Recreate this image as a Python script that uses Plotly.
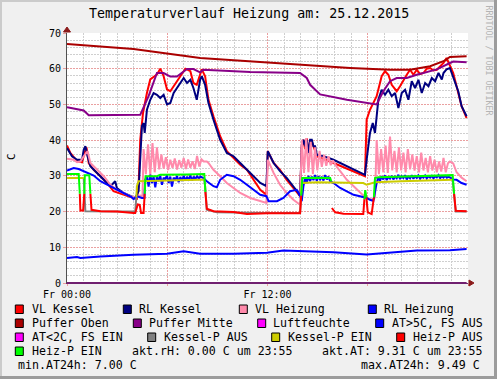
import plotly.graph_objects as go

# ---------------- data (time in minutes after 00:00, value in C) ----------------
puffer_oben = [(0, 66.9), (239, 65.5), (478, 63.0), (658, 62.1), (718, 61.8), (837, 61.2),
               (1017, 60.2), (1160, 59.7), (1232, 59.7), (1304, 60.7), (1352, 62.1),
               (1375, 63.3), (1435, 63.5)]

puffer_mitte = [(0, 49.2), (36, 48.7), (60, 48.3), (78, 47.0), (263, 47.1), (293, 52.3),
                (323, 58.8), (347, 58.8), (371, 57.8), (395, 57.8), (431, 59.9), (454, 59.9),
                (478, 59.0), (490, 59.7), (658, 59.1), (837, 58.8), (861, 57.4), (873, 55.5),
                (909, 52.8), (1005, 51.3), (1088, 50.4), (1112, 50.0), (1136, 53.7),
                (1160, 56.5), (1184, 57.4), (1220, 57.4), (1256, 58.3), (1328, 59.8),
                (1375, 61.6), (1387, 62.0), (1435, 61.8)]

aussen_temp = [(0, 7.0), (36, 7.3), (48, 7.0), (60, 7.1), (120, 7.4), (239, 7.9), (359, 8.2),
               (419, 8.9), (478, 8.2), (598, 8.2), (718, 8.5), (777, 9.1), (837, 9.0),
               (957, 8.6), (1076, 8.0), (1196, 8.6), (1256, 9.1), (1375, 9.2), (1435, 9.5)]

luftfeuchte = [(0, 0.0), (1435, 0.0)]

vl_kessel = [(0, 38.5), (12, 36.4), (36, 34.1), (54, 33.8), (66, 37.3), (70, 38.0), (78, 33.6),
             (96, 31.7), (120, 29.9), (144, 28.0), (167, 25.7), (191, 25.0), (215, 24.3),
             (239, 23.8), (251, 23.6), (257, 27.0), (263, 40.1), (273, 47.6), (287, 53.2),
             (299, 57.0), (323, 58.4), (335, 60.0), (347, 57.9), (359, 54.2), (371, 53.7),
             (383, 55.1), (407, 57.9), (425, 60.0), (443, 59.3), (454, 56.0), (466, 55.5),
             (478, 58.8), (484, 59.8), (496, 57.9), (508, 51.3), (526, 46.7), (550, 41.1),
             (574, 36.9), (598, 35.0), (622, 33.1), (646, 31.7), (670, 28.9), (694, 26.1),
             (716, 24.7), (721, 36.9), (742, 33.6), (765, 31.7), (789, 28.9), (813, 26.6),
             (837, 24.3), (843, 38.3), (849, 40.1), (855, 37.5), (861, 40.5), (867, 37.0),
             (879, 39.7), (891, 37.0), (897, 35.5), (957, 33.6), (1017, 31.7), (1070, 29.9),
             (1076, 45.7), (1088, 48.5), (1112, 52.3), (1130, 57.9), (1142, 59.3), (1154, 58.3),
             (1166, 55.5), (1184, 53.7), (1196, 55.1), (1208, 56.9), (1220, 58.3), (1232, 59.7),
             (1244, 58.3), (1256, 59.7), (1268, 58.5), (1280, 58.8), (1292, 60.0), (1304, 60.2),
             (1316, 59.5), (1328, 59.7), (1352, 61.6), (1363, 63.0), (1375, 60.7), (1387, 58.8),
             (1399, 55.1), (1417, 49.5), (1435, 46.2)]

rl_kessel = [(0, 37.8), (18, 35.5), (36, 34.5), (54, 34.5), (60, 37.3), (66, 38.3), (74, 35.5),
             (84, 32.7), (108, 30.8), (132, 28.9), (156, 27.1), (173, 28.5), (179, 26.6),
             (203, 25.2), (227, 24.3), (245, 23.8), (257, 25.7), (263, 37.3), (269, 43.9),
             (275, 44.8), (279, 42.0), (287, 48.5), (299, 51.3), (311, 53.2), (323, 52.7),
             (335, 51.8), (347, 52.7), (359, 50.0), (371, 50.4), (383, 53.2), (395, 54.6),
             (407, 56.0), (419, 57.4), (431, 56.0), (443, 56.9), (454, 54.6), (466, 51.3),
             (478, 56.9), (484, 57.9), (496, 55.5), (508, 50.4), (526, 45.7), (550, 40.1),
             (574, 36.4), (598, 35.5), (622, 33.6), (646, 31.7), (670, 29.9), (694, 28.0),
             (716, 27.1), (721, 36.9), (742, 33.6), (765, 31.3), (789, 29.4), (813, 27.1),
             (831, 25.2), (837, 24.3), (843, 38.3), (849, 40.1), (855, 38.3), (861, 40.1),
             (867, 36.4), (873, 40.1), (879, 40.1), (885, 38.3), (891, 38.3), (897, 35.9),
             (921, 35.5), (957, 34.5), (1017, 32.2), (1070, 30.3), (1076, 34.5), (1088, 42.0),
             (1098, 44.8), (1106, 42.0), (1118, 51.3), (1130, 54.1), (1142, 52.7), (1154, 54.1),
             (1166, 52.3), (1178, 53.2), (1190, 49.0), (1202, 53.2), (1214, 54.1), (1226, 51.3),
             (1238, 56.5), (1250, 54.6), (1262, 56.9), (1274, 53.2), (1286, 56.0), (1298, 55.1),
             (1310, 57.4), (1322, 56.5), (1334, 58.8), (1346, 57.0), (1352, 58.8), (1363, 59.8),
             (1375, 60.2), (1387, 57.4), (1393, 56.0), (1405, 53.7), (1417, 49.5), (1435, 46.7)]

vl_heizung = [(0, 34.8), (24, 34.5), (36, 33.8), (48, 34.0), (60, 35.5), (74, 36.9), (84, 33.6),
              (108, 31.7), (132, 29.9), (156, 27.5), (179, 26.1), (203, 25.2), (227, 24.3),
              (245, 24.0), (263, 24.5), (271, 24.3),
              (275, 37.5), (283, 30.5), (291, 38.8), (299, 30.2), (307, 39.2), (315, 31.0),
              (323, 38.0), (331, 31.8), (339, 36.0), (347, 32.0), (355, 35.2), (363, 31.6),
              (371, 34.5), (379, 32.2), (387, 34.9), (395, 31.8), (403, 34.4), (411, 32.3),
              (419, 35.0), (427, 31.9), (435, 34.6), (443, 32.3), (451, 34.1), (459, 31.9),
              (467, 35.6), (475, 32.6), (483, 34.6), (491, 34.0), (502, 34.0), (508, 33.6),
              (526, 31.7), (550, 29.9), (574, 28.0), (598, 26.6), (622, 25.2), (658, 23.8),
              (694, 22.9), (716, 22.4), (721, 34.5), (730, 32.7), (742, 30.8), (765, 27.5),
              (789, 25.2), (813, 23.3), (837, 21.9),
              (843, 40.1), (851, 30.8), (859, 40.6), (867, 31.0), (875, 39.5), (883, 30.5),
              (891, 38.0), (899, 31.5), (907, 37.0), (915, 32.5), (923, 35.9), (931, 32.8),
              (939, 35.5), (947, 33.0), (955, 34.3), (963, 33.2), (969, 32.5), (981, 31.3),
              (993, 30.0), (1005, 28.9), (1017, 28.0), (1029, 27.1), (1041, 26.1), (1052, 25.2),
              (1064, 24.5), (1076, 24.0), (1088, 23.5), (1100, 23.3), (1106, 24.0),
              (1112, 40.0), (1120, 30.5), (1128, 37.5), (1136, 31.0), (1144, 38.5), (1152, 30.8),
              (1160, 41.0), (1168, 31.5), (1176, 37.0), (1184, 31.0), (1192, 38.0), (1200, 31.5),
              (1208, 36.5), (1216, 31.0), (1224, 37.5), (1232, 31.8), (1240, 36.0), (1248, 31.5),
              (1256, 35.5), (1264, 31.0), (1272, 36.5), (1280, 31.5), (1288, 35.0), (1296, 31.0),
              (1304, 35.5), (1312, 31.5), (1320, 34.5), (1328, 31.0), (1336, 34.0), (1344, 31.2),
              (1352, 35.0), (1360, 31.0), (1368, 33.5), (1375, 34.0), (1387, 33.5), (1399, 31.0),
              (1417, 29.5), (1435, 28.5)]

rl_heizung = [(0, 31.5), (12, 31.8), (24, 32.2), (42, 31.9), (60, 31.3), (78, 30.8), (96, 30.1),
              (120, 28.5), (144, 27.5), (167, 26.6), (191, 25.7), (215, 24.7), (233, 24.0),
              (239, 23.5), (251, 24.3), (269, 23.8), (278, 23.8),
              (281, 28.9), (287, 29.9), (293, 27.0), (299, 30.3), (305, 28.0), (311, 29.8),
              (317, 26.8), (323, 29.9), (329, 28.5), (335, 30.0), (341, 27.5), (347, 29.5),
              (353, 29.0), (359, 30.2), (365, 28.0), (371, 29.8), (377, 27.0), (383, 29.5),
              (389, 28.8), (395, 30.0), (401, 28.2), (407, 29.7), (413, 28.6), (419, 30.0),
              (425, 28.9), (431, 29.6), (437, 29.0), (443, 30.1), (449, 28.7), (455, 29.8),
              (461, 29.0), (467, 30.0), (473, 29.2), (479, 29.8), (490, 29.4), (502, 28.5),
              (526, 27.1), (538, 26.8), (550, 28.9), (574, 30.3), (598, 29.9), (622, 28.9),
              (646, 27.5), (670, 26.1), (694, 24.7), (716, 24.3), (724, 22.9), (754, 22.9),
              (777, 23.8), (801, 25.7), (825, 26.1), (837, 24.5), (843, 22.9),
              (849, 27.1), (855, 29.5), (861, 28.0), (867, 30.0), (873, 28.5), (879, 29.8),
              (885, 28.8), (891, 30.2), (897, 28.6), (903, 29.9), (909, 29.0), (915, 29.7),
              (921, 28.7), (927, 30.2), (933, 29.0), (939, 29.8), (945, 28.5), (957, 28.0),
              (981, 26.6), (1005, 25.7), (1029, 24.7), (1052, 24.3), (1076, 23.8), (1088, 23.3),
              (1100, 23.0), (1112, 28.0),
              (1118, 29.5), (1124, 28.6), (1130, 29.9), (1136, 29.0), (1142, 30.1), (1148, 28.8),
              (1154, 29.7), (1160, 29.2), (1166, 30.0), (1172, 29.0), (1178, 29.8), (1184, 29.3),
              (1190, 30.3), (1196, 29.1), (1202, 29.9), (1208, 29.4), (1214, 30.2), (1220, 29.0),
              (1226, 29.8), (1232, 29.3), (1238, 30.2), (1244, 29.2), (1250, 29.9), (1256, 29.4),
              (1262, 30.1), (1268, 29.2), (1274, 29.8), (1280, 29.5), (1286, 30.1), (1292, 29.3),
              (1298, 29.9), (1304, 29.5), (1310, 30.0), (1316, 29.3), (1322, 29.9), (1328, 29.6),
              (1334, 30.2), (1340, 29.4), (1346, 29.9), (1352, 29.5), (1358, 30.0), (1364, 29.5),
              (1370, 29.8), (1387, 29.0), (1399, 28.9), (1417, 28.0), (1435, 27.5)]

# pump states: (minute, value, 1 = EIN / 0 = AUS); None = no data
heiz_p = [(0, 30.5, 1), (42, 30.5, 1), (46, 25.0, 1), (48, 20.3, 0), (58, 20.3, 0), (62, 25.0, 0),
          (64, 30.2, 1), (80, 30.2, 1), (84, 25.0, 1), (88, 20.5, 0), (120, 20.1, 0), (179, 20.0, 0),
          (239, 19.6, 0), (245, 19.6, 0), (254, 22.0, 0), (261, 21.9, 0), (266, 19.6, 0),
          (275, 19.6, 0), (279, 25.0, 0), (282, 29.9, 1), (323, 29.9, 1), (335, 30.3, 1),
          (430, 30.4, 1), (493, 30.5, 1), (497, 25.5, 1), (502, 20.8, 0), (526, 20.1, 0),
          (598, 19.9, 0), (646, 19.3, 0), (718, 19.5, 0), (837, 19.5, 0), (841, 24.5, 0),
          (845, 29.4, 1), (900, 29.5, 1), (945, 29.4, 1), (949, 28.5, 1), (950, None, 0),
          (951, 21.0, 0), (963, 19.8, 0), (993, 19.4, 0), (1064, 19.3, 0), (1068, 23.5, 0),
          (1071, 26.0, 1), (1075, 24.0, 1), (1080, 19.8, 0), (1094, 19.3, 0), (1102, 24.0, 0),
          (1106, 29.4, 1), (1118, 29.6, 1), (1200, 29.8, 1), (1300, 30.0, 1), (1385, 30.2, 1),
          (1390, 25.0, 1), (1396, 20.2, 0), (1435, 20.1, 0)]

kessel_p = [(0, 29.4, 1), (60, 29.4, 1), (66, 20.1, 0), (239, 20.0, 0), (245, 19.9, 0),
            (249, 24.0, 0), (251, 27.1, 1), (257, 28.5, 1), (299, 28.5, 1), (359, 28.7, 1),
            (478, 28.9, 1), (493, 28.9, 1), (496, 27.1, 0), (502, 20.5, 0), (538, 19.8, 0),
            (718, 19.6, 0), (837, 19.6, 0), (841, 25.0, 0), (843, 28.0, 1), (900, 28.2, 1),
            (1000, 28.0, 1), (1064, 28.0, 1), (1076, 27.5, 1), (1088, 27.8, 1), (1106, 28.2, 1),
            (1200, 28.5, 1), (1300, 28.7, 1), (1385, 28.9, 1), (1390, 24.0, 0), (1396, 20.0, 0),
            (1435, 20.0, 0)]

title_text = "Temperaturverlauf Heizung am: 25.12.2015"
x_tick_vals = [0, 6, 12, 18, 24]
x_tick_text = ["Fr 00:00", "", "Fr 12:00", "", ""]
y_tick_vals = [0, 10, 20, 30, 40, 50, 60, 70]

legend_names = ["VL Kessel", "RL Kessel", "VL Heizung", "RL Heizung",
                "Puffer Oben", "Puffer Mitte", "Luftfeuchte", "AT>5C, FS AUS",
                "AT<2C, FS EIN", "Kessel-P AUS", "Kessel-P EIN", "Heiz-P AUS",
                "Heiz-P EIN"]
akt_rh, akt_at, min_at24, max_at24, t_last = 0.00, 9.31, 7.00, 9.49, "23:55"

# ---------------- styling ----------------
COL = {"VL Kessel": "#ff0000", "RL Kessel": "#000080", "VL Heizung": "#ff8aab",
       "RL Heizung": "#0000ff", "Puffer Oben": "#aa0000", "Puffer Mitte": "#880088",
       "Luftfeuchte": "#ff00ff", "AT>5C, FS AUS": "#0000ff", "AT<2C, FS EIN": "#ff00ff",
       "Kessel-P AUS": "#808080", "Kessel-P EIN": "#cccc00", "Heiz-P AUS": "#ff0000",
       "Heiz-P EIN": "#00ff00"}
MONO = "DejaVu Sans Mono"
W, H = 497, 379
L, R, T, B = 67, 29, 33, 96
PW, PH = W - L - R, H - T - B


def pxx(x):
    return (x - L) / PW


def pxy(y):
    return (H - B - y) / PH


def xs(pairs):
    return [p[0] / 60.0 for p in pairs]


def ys(pairs):
    return [p[1] for p in pairs]


def split_state(series, k):
    out = []
    n = len(series)
    for i in range(n):
        inc = series[i][2] == k or (i + 1 < n and series[i + 1][2] == k)
        out.append(series[i][1] if inc else None)
    return out


fig = go.Figure()


def line(x, y, color, width=2):
    fig.add_trace(go.Scatter(x=x, y=y, mode="lines", line=dict(color=color, width=width),
                             connectgaps=False, showlegend=False, hoverinfo="skip"))


line(xs(vl_kessel), ys(vl_kessel), COL["VL Kessel"])
line(xs(rl_kessel), ys(rl_kessel), COL["RL Kessel"])
line(xs(vl_heizung), ys(vl_heizung), COL["VL Heizung"])
line(xs(rl_heizung), ys(rl_heizung), COL["RL Heizung"])
line(xs(puffer_oben), ys(puffer_oben), COL["Puffer Oben"])
line(xs(puffer_mitte), ys(puffer_mitte), COL["Puffer Mitte"])
line(xs(luftfeuchte), ys(luftfeuchte), "#702070", 2)
line(xs(aussen_temp), ys(aussen_temp), COL["AT>5C, FS AUS"])
line(xs(kessel_p), split_state(kessel_p, 0), COL["Kessel-P AUS"])
line(xs(kessel_p), split_state(kessel_p, 1), COL["Kessel-P EIN"])
line(xs(heiz_p), split_state(heiz_p, 0), COL["Heiz-P AUS"])
line(xs(heiz_p), split_state(heiz_p, 1), COL["Heiz-P EIN"])

shapes = []
annotations = []

# frame shading
shapes.append(dict(type="rect", xref="paper", yref="paper", x0=pxx(0), x1=pxx(W), y0=pxy(0), y1=pxy(2),
                   fillcolor="#cbcbcb", line=dict(width=0), layer="below"))
shapes.append(dict(type="rect", xref="paper", yref="paper", x0=pxx(0), x1=pxx(2), y0=pxy(0), y1=pxy(H),
                   fillcolor="#cbcbcb", line=dict(width=0), layer="below"))
shapes.append(dict(type="rect", xref="paper", yref="paper", x0=pxx(W - 3), x1=pxx(W), y0=pxy(0), y1=pxy(H),
                   fillcolor="#9c9c9c", line=dict(width=0), layer="below"))
shapes.append(dict(type="rect", xref="paper", yref="paper", x0=pxx(0), x1=pxx(W), y0=pxy(H - 3), y1=pxy(H),
                   fillcolor="#9c9c9c", line=dict(width=0), layer="below"))


def tri(p1, p2, p3, color):
    path = "M {} {} L {} {} L {} {} Z".format(pxx(p1[0]), pxy(p1[1]), pxx(p2[0]), pxy(p2[1]),
                                               pxx(p3[0]), pxy(p3[1]))
    shapes.append(dict(type="path", xref="paper", yref="paper", path=path, fillcolor=color,
                       line=dict(color=color, width=1)))


tri((67, 27), (63.5, 32), (70.5, 32), "#8b1a1a")
tri((474, 283), (469, 280), (469, 286), "#8b1a1a")

# legend
row_y = [309, 323, 337, 351, 365]
cols = [[(15.3, 30.7), (123.3, 138.3), (239.3, 254.3), (368.3, 383.3)],
        [(15.3, 30.7), (133.3, 148.3), (257.7, 272.3), (375.7, 390.7)],
        [(15.3, 30.7), (147.7, 162.7), (271.7, 286.7), (396.7, 411.7)],
        [(15.3, 30.7)]]
k = 0
for r, row in enumerate(cols):
    for (sx, tx) in row:
        name = legend_names[k]
        k += 1
        cy = row_y[r]
        shapes.append(dict(type="rect", xref="paper", yref="paper", x0=pxx(sx), x1=pxx(sx + 8),
                           y0=pxy(cy + 4.5), y1=pxy(cy - 4), fillcolor=COL[name],
                           line=dict(color="black", width=1)))
        annotations.append(dict(x=pxx(tx - 1), y=pxy(cy), xref="paper", yref="paper", text=name,
                                showarrow=False, xanchor="left", yanchor="middle",
                                font=dict(family=MONO, size=11.6, color="black")))

stat_font = dict(family=MONO, size=11.6, color="black")
annotations.append(dict(x=pxx(129.7), y=pxy(351), xref="paper", yref="paper",
                        text="akt.rH: {:.2f} C um {}".format(akt_rh, t_last), showarrow=False,
                        xanchor="left", yanchor="middle", font=stat_font))
annotations.append(dict(x=pxx(319.7), y=pxy(351), xref="paper", yref="paper",
                        text="akt.AT: {:.2f} C um {}".format(akt_at, t_last), showarrow=False,
                        xanchor="left", yanchor="middle", font=stat_font))
annotations.append(dict(x=pxx(15.7), y=pxy(365), xref="paper", yref="paper",
                        text="min.AT24h: {:.2f} C".format(min_at24), showarrow=False,
                        xanchor="left", yanchor="middle", font=stat_font))
annotations.append(dict(x=pxx(482), y=pxy(365), xref="paper", yref="paper",
                        text="max.AT24h: {:.2f} C".format(max_at24), showarrow=False,
                        xanchor="right", yanchor="middle", font=stat_font))

annotations.append(dict(x=pxx(11), y=pxy(157), xref="paper", yref="paper", text="C",
                        showarrow=False, textangle=-90, xanchor="center", yanchor="middle",
                        font=dict(family=MONO, size=11, color="black")))
annotations.append(dict(x=pxx(488.5), y=pxy(60), xref="paper", yref="paper",
                        text="RRDTOOL / TOBI OETIKER", showarrow=False, textangle=90,
                        xanchor="center", yanchor="middle",
                        font=dict(family=MONO, size=8.3, color="#b4b4b4")))
annotations.append(dict(x=pxx(248.5), y=pxy(13.5), xref="paper", yref="paper", text=title_text,
                        showarrow=False, xanchor="center", yanchor="middle",
                        font=dict(family=MONO, size=13.3, color="black")))

major_grid = "#eaa0a0"
minor_grid = "#cfcfcf"

fig.update_layout(
    width=W, height=H, margin=dict(l=L, r=R, t=T, b=B, pad=0),
    paper_bgcolor="#f0f0f0", plot_bgcolor="#ffffff",
    showlegend=False, shapes=shapes, annotations=annotations,
    xaxis=dict(range=[0, 24], tickvals=x_tick_vals, ticktext=x_tick_text,
               showgrid=True, gridcolor=major_grid, griddash="2px,1px", gridwidth=1,
               zeroline=False, showline=True, linecolor="#702070", linewidth=1,
               ticks="outside", ticklen=2, tickcolor=major_grid,
               tickfont=dict(family=MONO, size=10, color="black"),
               minor=dict(dtick=1, tick0=0, showgrid=True, gridcolor=minor_grid,
                          griddash="2px,1px", gridwidth=1)),
    yaxis=dict(range=[0, 70], tickvals=y_tick_vals,
               showgrid=True, gridcolor=major_grid, griddash="2px,1px", gridwidth=1,
               zeroline=False, showline=True, linecolor="#505050", linewidth=1,
               ticks="outside", ticklen=3, tickcolor=major_grid,
               tickfont=dict(family=MONO, size=10, color="black"),
               minor=dict(dtick=2, tick0=0, showgrid=True, gridcolor=minor_grid,
                          griddash="2px,1px", gridwidth=1)),
)

fig.write_html("out.html", config={"displayModeBar": False},
               post_script="document.body.style.margin='0';")
